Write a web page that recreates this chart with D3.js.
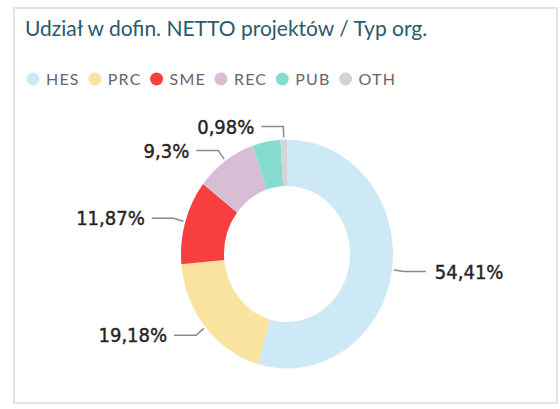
<!DOCTYPE html>
<html>
<head>
<meta charset="utf-8">
<script src="https://cdn.jsdelivr.net/npm/d3@7"></script>
<style>
  body { margin: 0; background: #fff; }
</style>
</head>
<body>
<script>
var categories = ["HES", "PRC", "SME", "REC", "PUB", "OTH"];
var shares = [54.41, 19.18, 11.87, 9.3, 4.26, 0.98];
var labels = ["54,41%", "19,18%", "11,87%", "9,3%", null, "0,98%"];
var colors = ["#cde9f5", "#fae39f", "#f73f3f", "#d8bed5", "#86dbd0", "#d4d4d4"];

var width = 560, height = 409;
var cx = 287, cy = 254, rOuter = 106, rInner = 63, sy = 1.08;

var svg = d3.select("body").append("svg")
	.attr("width", width)
	.attr("height", height);

// frame
svg.append("rect")
	.attr("x", 14).attr("y", 8)
	.attr("width", 543).attr("height", 395)
	.attr("fill", "#fff")
	.attr("stroke", "#e3e3e3")
	.attr("stroke-width", 2);

svg.append("text")
	.attr("x", 25).attr("y", 36)
	.attr("font-family", "Segoe UI, Lato, sans-serif")
	.attr("font-size", 21)
	.attr("fill", "#2a5a6c")
	.text("Udział w dofin. NETTO projektów / Typ org.");

// legend
var color = d3.scaleOrdinal().domain(categories).range(colors);
var legend = svg.append("g").attr("transform", "translate(0,79)");
var lx = 33;
categories.forEach(function (c) {
	legend.append("circle")
		.attr("cx", lx).attr("cy", 0).attr("r", 6.5)
		.attr("fill", color(c));
	var t = legend.append("text")
		.attr("x", lx + 13).attr("y", 6)
		.attr("font-family", "Segoe UI, Lato, sans-serif")
		.attr("font-size", 16)
		.attr("letter-spacing", 1.2)
		.attr("fill", "#666")
		.text(c);
	lx += 13 + t.node().getComputedTextLength() + 15;
});

// donut
var pie = d3.pie().sort(null).value(function (d) { return d; });
var arcs = pie(shares);
var arc = d3.arc().innerRadius(rInner).outerRadius(rOuter);

svg.append("g")
	.attr("transform", "translate(" + cx + "," + cy + ") scale(1," + sy + ")")
	.selectAll("path")
	.data(arcs)
	.enter().append("path")
	.attr("d", arc)
	.attr("fill", function (d, i) { return color(categories[i]); });

function pt(a, r) {
	return [cx + r * Math.sin(a), cy - r * sy * Math.cos(a)];
}

// labels with leader lines
var lab = svg.append("g");
arcs.forEach(function (d, i) {
	if (!labels[i]) return;
	var a = (d.startAngle + d.endAngle) / 2;
	var p0 = pt(a, rOuter + 2);
	var p1 = pt(a, rOuter + 12);
	var right = Math.sin(a) > 0;
	var x2 = p1[0] + (right ? 22 : -22);
	lab.append("path")
		.attr("d", "M" + p0 + "L" + p1 + "L" + x2 + "," + p1[1])
		.attr("fill", "none")
		.attr("stroke", "#8a8a8a")
		.attr("stroke-width", 1.5);
	lab.append("text")
		.attr("x", x2 + (right ? 9 : -7))
		.attr("y", p1[1])
		.attr("dy", "0.36em")
		.attr("text-anchor", right ? "start" : "end")
		.attr("font-family", "DejaVu Sans Condensed, sans-serif")
		.attr("font-size", 20)
		.attr("fill", "#252423")
		.attr("stroke", "#252423")
		.attr("stroke-width", 0.4)
		.text(labels[i]);
});
</script>
</body>
</html>
